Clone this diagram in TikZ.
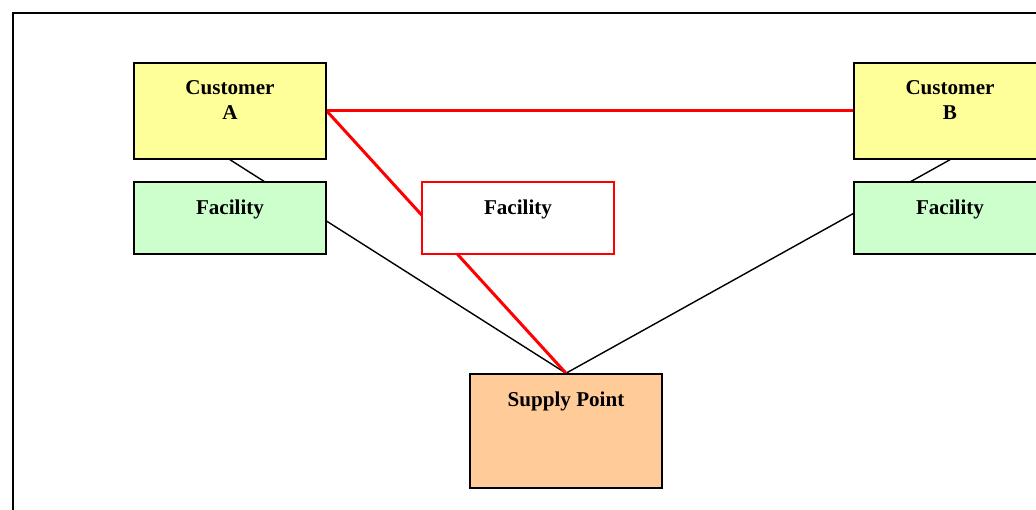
\documentclass[tikz,border=0pt]{standalone}
\usepackage{fontspec}
\setmainfont{Liberation Serif}
\usetikzlibrary{backgrounds}
\definecolor{cyellow}{RGB}{255,255,153}
\definecolor{fgreen}{RGB}{204,255,204}
\definecolor{sorange}{RGB}{255,204,153}
\definecolor{lred}{RGB}{255,0,0}

\begin{document}
\begin{tikzpicture}[
    box/.style={draw, line width=0.85pt, minimum width=3.84cm, inner sep=0pt},
    lbl/.style={anchor=north, inner sep=0pt, yshift=-0.36cm, align=center,
                font=\fontsize{12}{14.2}\selectfont\bfseries},
    conn/.style={black, line width=0.8pt},
    route/.style={lred, line width=1.7pt},
  ]
    \useasboundingbox (0,0) rectangle (20.72,10.2);
    \clip (0,0) rectangle (20.72,10.2);

    \node[box, fill=cyellow, minimum height=1.92cm, label={[lbl]north:Customer\\A}] (custA) at (4.6,7.98) {};
    \node[box, fill=fgreen, minimum height=1.44cm, label={[lbl]north:Facility}] (facA) at (4.6,5.84) {};
    \node[box, fill=cyellow, minimum height=1.92cm, label={[lbl]north:Customer\\B}] (custB) at (19.0,7.98) {};
    \node[box, fill=fgreen, minimum height=1.44cm, label={[lbl]north:Facility}] (facB) at (19.0,5.84) {};
    \node[box, draw=lred, fill=white, minimum height=1.44cm, label={[lbl]north:Facility}] (facNew) at (10.36,5.84) {};
    \node[box, fill=sorange, minimum height=2.28cm, label={[lbl]north:Supply Point}] (supply) at (11.32,1.58) {};

    \begin{scope}[on background layer]
      % outer frame
      \draw[line width=1.1pt] (0.26,-0.5) rectangle (21.5,9.94);
      \draw[conn] (custA.south) -- (supply.north);
      \draw[conn] (custB.south) -- (supply.north);
      \draw[route] (custA.east) -- (custB.west);
      \draw[route] (custA.east) -- (supply.north);
    \end{scope}
  \end{tikzpicture}
\end{document}
